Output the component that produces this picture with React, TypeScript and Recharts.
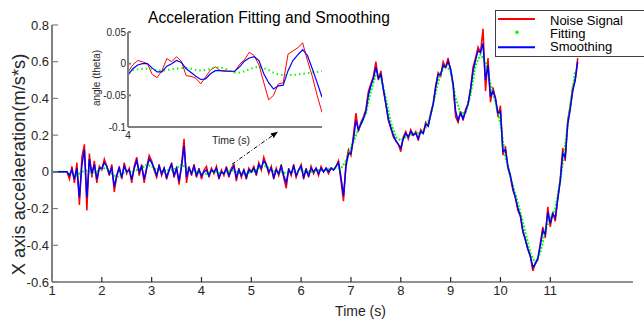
import React from 'react';
import { LineChart, Line, XAxis, YAxis, ReferenceLine, Legend } from 'recharts';

// ---------- main chart data (sampled every 0.05 s from 1.00 s) ----------
const T0 = 1.0;
const DT = 0.05;

const noiseSignal = [
  0, 0, 0, 0, 0, 0, 0, -0.04, 0.03, -0.06, 0.05, -0.18, 0.08, 0.15, -0.21, 0.1, -0.03, 0.06, -0.06, 0.03,
  0.01, 0.07, 0.03, -0.02, 0.04, -0.11, -0.02, 0.03, -0.04, 0.05, -0.01, 0.02, -0.06, 0.03, 0.08, -0.02, 0.04, -0.06, 0.02, 0.09,
  0.06, 0.01, -0.03, 0.04, -0.02, 0.02, -0.04, 0.01, 0.05, -0.03, 0.02, -0.07, 0.04, 0.18, -0.06, 0.03, -0.02, 0.04, -0.03, 0.02,
  -0.04, 0.01, 0.03, -0.03, 0.02, -0.01, 0.03, -0.04, 0.01, -0.02, 0.03, -0.03, 0.02, 0.04, -0.05, 0.02, -0.03, 0.01, -0.04, 0.02,
  0.0, 0.03, -0.02, 0.05, 0.01, 0.08, 0.04, -0.01, 0.03, -0.04, 0.02, -0.02, 0.04, -0.03, -0.09, 0.02, -0.02, 0.04, -0.03, 0.01,
  0.04, -0.04, 0.02, -0.03, 0.03, -0.01, 0.02, -0.02, 0.03, 0.0, 0.02, -0.01, 0.02, 0.01, 0.03, 0.06, -0.05, -0.16, 0.05, 0.12,
  0.09, 0.2, 0.32, 0.22, 0.27, 0.3, 0.34, 0.44, 0.48, 0.52, 0.6, 0.5, 0.55, 0.45, 0.37, 0.28, 0.24, 0.19, 0.17, 0.15,
  0.11, 0.19, 0.22, 0.18, 0.23, 0.2, 0.22, 0.17, 0.23, 0.21, 0.27, 0.25, 0.32, 0.37, 0.47, 0.54, 0.52, 0.6, 0.57, 0.62,
  0.55, 0.47, 0.3, 0.27, 0.33, 0.28, 0.34, 0.37, 0.45, 0.57, 0.62, 0.68, 0.65, 0.78, 0.44, 0.62, 0.38, 0.46, 0.4, 0.3,
  0.36, 0.09, 0.14, 0.02, -0.03, -0.1, -0.14, -0.21, -0.24, -0.33, -0.37, -0.42, -0.46, -0.54, -0.5, -0.48, -0.39, -0.3, -0.36, -0.19,
  -0.3, -0.22, -0.27, -0.14, -0.04, 0.13, 0.06, 0.28, 0.36, 0.46, 0.5, 0.62,
];

const smoothing = [
  0, 0, 0, 0, 0, 0, 0, -0.02, 0.01, -0.04, 0.02, -0.14, 0.04, 0.12, -0.14, 0.07, -0.01, 0.04, -0.04, 0.02,
  0.02, 0.05, 0.03, -0.01, 0.02, -0.08, -0.02, 0.02, -0.03, 0.03, 0.0, 0.01, -0.04, 0.02, 0.06, 0.0, 0.03, -0.04, 0.02, 0.07,
  0.05, 0.02, -0.02, 0.03, -0.01, 0.02, -0.03, 0.01, 0.04, -0.02, 0.02, -0.05, 0.03, 0.14, -0.03, 0.02, -0.01, 0.03, -0.02, 0.01,
  -0.02, 0.0, 0.01, -0.02, 0.01, 0.0, 0.02, -0.03, 0.0, -0.01, 0.02, -0.02, 0.01, 0.03, -0.03, 0.01, -0.02, 0.01, -0.03, 0.01,
  0.0, 0.02, -0.01, 0.04, 0.02, 0.06, 0.04, 0.0, 0.02, -0.03, 0.01, -0.01, 0.03, -0.02, -0.06, 0.01, -0.01, 0.03, -0.02, 0.01,
  0.03, -0.03, 0.01, -0.02, 0.02, 0.0, 0.02, -0.01, 0.02, 0.0, 0.02, 0.0, 0.02, 0.01, 0.03, 0.05, -0.03, -0.13, 0.03, 0.1,
  0.1, 0.18, 0.28, 0.23, 0.26, 0.29, 0.33, 0.42, 0.47, 0.51, 0.57, 0.51, 0.53, 0.45, 0.37, 0.29, 0.24, 0.2, 0.17, 0.15,
  0.13, 0.18, 0.21, 0.19, 0.22, 0.2, 0.21, 0.18, 0.22, 0.21, 0.26, 0.25, 0.31, 0.37, 0.46, 0.53, 0.53, 0.58, 0.57, 0.6,
  0.56, 0.48, 0.33, 0.28, 0.32, 0.29, 0.33, 0.37, 0.45, 0.55, 0.61, 0.66, 0.65, 0.7, 0.5, 0.58, 0.41, 0.44, 0.4, 0.32,
  0.33, 0.11, 0.12, 0.03, -0.02, -0.09, -0.14, -0.2, -0.24, -0.32, -0.37, -0.42, -0.46, -0.52, -0.5, -0.47, -0.4, -0.32, -0.34, -0.22,
  -0.28, -0.23, -0.25, -0.15, -0.05, 0.1, 0.08, 0.26, 0.34, 0.44, 0.5, 0.6,
];

// fitting curve sampled every 0.1 s from 1.0 s
const FIT_T0 = 1.0;
const FIT_DT = 0.1;
const fitting = [
  0, 0, 0, 0, -0.01, -0.02, 0.0, 0.01, -0.01, 0.0,
  0.02, 0.02, -0.01, -0.03, -0.01, 0.0, 0.0, 0.01, 0.02, 0.04,
  0.03, 0.01, 0.0, 0.01, 0.01, 0.02, 0.04, 0.02, 0.0, 0.0,
  -0.01, -0.01, 0.0, 0.0, -0.01, 0.0, 0.01, 0.0, -0.01, -0.01,
  0.0, 0.01, 0.03, 0.03, 0.01, 0.0, 0.0, -0.01, 0.0, 0.0,
  0.01, 0.0, 0.0, 0.01, 0.01, 0.01, 0.02, 0.02, 0.02, 0.06,
  0.13, 0.2, 0.26, 0.32, 0.44, 0.53, 0.52, 0.4, 0.27, 0.19,
  0.17, 0.19, 0.2, 0.21, 0.21, 0.24, 0.31, 0.43, 0.54, 0.58,
  0.55, 0.4, 0.32, 0.32, 0.42, 0.58, 0.64, 0.6, 0.48, 0.38,
  0.26, 0.08, -0.03, -0.12, -0.22, -0.33, -0.44, -0.5, -0.44, -0.32,
  -0.25, -0.2, -0.05, 0.15, 0.36, 0.55,
];

const xTicks = [1, 2, 3, 4, 5, 6, 7, 8, 9, 10, 11];
const yTicks = [-0.6, -0.4, -0.2, 0, 0.2, 0.4, 0.6, 0.8];

// ---------- inset data (sampled every 0.02 s from 4.00 s) ----------
const INSET_T0 = 4.0;
const INSET_DT = 0.02;
const insetNoise = [
  -0.013, -0.002, 0.005, 0.003, 0.0, -0.017, -0.022, -0.011, 0.008, 0.003,
  0.011, 0.004, -0.019, -0.02, -0.023, -0.032, -0.021, -0.01, -0.005, -0.011,
  -0.011, -0.012, -0.013, -0.001, 0.006, 0.018, 0.013, -0.002, -0.03, -0.057,
  -0.05, -0.032, -0.03, 0.015, 0.02, 0.025, 0.033, 0.005, -0.02, -0.05, -0.077,
];
const insetSmooth = [
  -0.018, -0.008, -0.002, 0.0, 0.0, -0.007, -0.013, -0.013, -0.004, 0.0,
  0.005, 0.002, -0.008, -0.014, -0.02, -0.025, -0.024, -0.016, -0.011, -0.011,
  -0.012, -0.012, -0.012, -0.005, 0.004, 0.009, 0.011, 0.005, -0.016, -0.03,
  -0.04, -0.035, -0.034, -0.011, 0.005, 0.014, 0.022, 0.013, -0.008, -0.03, -0.053,
];
const insetFit = [
  -0.012, -0.01, -0.009, -0.008, -0.008, -0.009, -0.01, -0.011, -0.01, -0.009,
  -0.008, -0.007, -0.007, -0.008, -0.01, -0.011, -0.01, -0.008, -0.006, -0.006,
  -0.008, -0.011, -0.014, -0.014, -0.012, -0.009, -0.006, -0.005, -0.007, -0.01,
  -0.014, -0.017, -0.018, -0.018, -0.018, -0.017, -0.016, -0.015, -0.014, -0.013, -0.012,
];
const insetXTicks = [4];
const insetYTicks = [-0.1, -0.05, 0, 0.05];

// ---------- assembled tables ----------
const mainData = noiseSignal.map((v, i) => ({
  t: Math.round((T0 + i * DT) * 100) / 100,
  noise: v,
  smooth: smoothing[i],
}));
const fitData = fitting.map((v, i) => ({ t: Math.round((FIT_T0 + i * FIT_DT) * 100) / 100, fit: v }));
const insetData = insetNoise.map((v, i) => ({
  t: Math.round((INSET_T0 + i * INSET_DT) * 1000) / 1000,
  noise: v,
  smooth: insetSmooth[i],
  fit: insetFit[i],
}));

const FONT = '"Liberation Sans", Arial, Helvetica, sans-serif';
const RED = '#ff0000';
const GREEN = '#00ff00';
const BLUE = '#0000ff';

const fmt = (v: number) => String(v);

const MainXLabel = (props: any) => {
  const vb = props.viewBox || { x: 52, y: 282, width: 581, height: 30 };
  return (
    <text x={vb.x + vb.width / 2 + 18} y={vb.y + 34} textAnchor="middle" fontSize={14} fill="#262626">
      Time (s)
    </text>
  );
};

const MainYLabel = (props: any) => {
  const vb = props.viewBox || { x: 0, y: 25, width: 52, height: 257 };
  const cx = vb.x + 25;
  const cy = vb.y + vb.height / 2 + 11;
  return (
    <text x={cx} y={cy} transform={`rotate(-90 ${cx} ${cy})`} textAnchor="middle" fontSize={18.3} fill="#262626">
      X axis accelaeration(m/s*s)
    </text>
  );
};

const InsetXLabel = (props: any) => {
  const vb = props.viewBox || { x: 128, y: 127, width: 194, height: 33 };
  return (
    <text x={vb.x + vb.width / 2 + 6} y={vb.y + 17} textAnchor="middle" fontSize={10.5} fill="#262626">
      Time (s)
    </text>
  );
};

const InsetYLabel = (props: any) => {
  const vb = props.viewBox || { x: 0, y: 32, width: 128, height: 95 };
  const cx = vb.x + 99.5;
  const cy = vb.y + vb.height / 2 - 1.5;
  return (
    <text x={cx} y={cy} transform={`rotate(-90 ${cx} ${cy})`} textAnchor="middle" fontSize={10} fill="#262626">
      angle (theta)
    </text>
  );
};

const LegendBox = () => (
  <svg width={160} height={48} style={{ display: 'block', fontFamily: FONT }}>
    <rect x={0.5} y={0.5} width={170} height={46} fill="#ffffff" stroke="#404040" strokeWidth={1} />
    <line x1={3} y1={9} x2={40} y2={9} stroke={RED} strokeWidth={2} />
    <circle cx={22} cy={22.3} r={1.8} fill={GREEN} />
    <line x1={3} y1={37.3} x2={40} y2={37.3} stroke={BLUE} strokeWidth={2} />
    <text x={55} y={15.2} fontSize={13} fill="#000">Noise Signal</text>
    <text x={55} y={28.3} fontSize={13} fill="#000">Fitting</text>
    <text x={55} y={41.4} fontSize={13} fill="#000">Smoothing</text>
  </svg>
);

const ArrowShape = (p: any) => (
  <line
    x1={p.x1}
    y1={p.y1}
    x2={p.x2}
    y2={p.y2}
    stroke="#000"
    strokeWidth={1}
    strokeDasharray="4 2 1 2"
    markerEnd="url(#arrowHead)"
  />
);

export default function App() {
  return (
    <div
      style={{
        position: 'fixed',
        left: 0,
        top: 0,
        width: 644,
        height: 323,
        background: '#ffffff',
        overflow: 'hidden',
        fontFamily: FONT,
      }}
    >
      <LineChart width={644} height={323} data={mainData} margin={{ top: 25, right: 11, bottom: 11, left: 0 }}>
        <defs>
          <marker
            id="arrowHead"
            viewBox="0 0 10 10"
            refX="9"
            refY="5"
            markerWidth="7"
            markerHeight="7"
            markerUnits="userSpaceOnUse"
            orient="auto"
          >
            <path d="M0,1 L10,5 L0,9 z" fill="#000" />
          </marker>
        </defs>
        <XAxis
          dataKey="t"
          type="number"
          domain={[1, 12.66]}
          ticks={xTicks}
          allowDataOverflow
          height={30}
          tickSize={-5}
          tickMargin={9}
          stroke="#262626"
          strokeWidth={1.2}
          tickLine={{ stroke: '#262626' }}
          tick={{ fill: '#262626', fontSize: 13 }}
          label={MainXLabel}
        />
        <YAxis
          type="number"
          domain={[-0.6, 0.8]}
          ticks={yTicks}
          allowDataOverflow
          width={52}
          tickSize={-6}
          tickMargin={9}
          stroke="#808080"
          strokeWidth={2}
          tickLine={{ stroke: '#808080', strokeWidth: 1.2 }}
          tick={{ fill: '#262626', fontSize: 13 }}
          tickFormatter={fmt}
          label={MainYLabel}
        />
        <Line dataKey="noise" stroke={RED} strokeWidth={1.5} dot={false} isAnimationActive={false} />
        <Line
          data={fitData}
          dataKey="fit"
          stroke={GREEN}
          strokeWidth={2}
          strokeDasharray="2 1.5"
          dot={false}
          isAnimationActive={false}
        />
        <Line dataKey="smooth" stroke={BLUE} strokeWidth={1.5} dot={false} isAnimationActive={false} />
        <ReferenceLine
          segment={[
            { x: 4.61, y: 0.041 },
            { x: 5.52, y: 0.216 },
          ]}
          shape={ArrowShape}
        />
        <Legend
          layout="horizontal"
          verticalAlign="middle"
          align="center"
          content={LegendBox}
          wrapperStyle={{ position: 'absolute', left: 495, top: 10, width: 160, height: 48 }}
        />
        <text x={269} y={23} textAnchor="middle" fontSize={15.6} fill="#000">
          Acceleration Fitting and Smoothing
        </text>
      </LineChart>

      <div style={{ position: 'absolute', left: 0, top: 0, width: 340, height: 160, pointerEvents: 'none' }}>
        <LineChart width={340} height={160} data={insetData} margin={{ top: 32, right: 18, bottom: 0, left: 0 }}>
          <XAxis
            dataKey="t"
            type="number"
            domain={[4, 4.8]}
            ticks={insetXTicks}
            allowDataOverflow
            height={33}
            tickSize={-3}
            tickMargin={8}
            stroke="#808080"
            strokeWidth={2}
            tickLine={{ stroke: '#808080' }}
            tick={{ fill: '#262626', fontSize: 10 }}
            label={InsetXLabel}
          />
          <YAxis
            type="number"
            domain={[-0.1, 0.05]}
            ticks={insetYTicks}
            allowDataOverflow
            width={128}
            tickSize={-3}
            tickMargin={5}
            stroke="#808080"
            strokeWidth={2}
            tickLine={{ stroke: '#808080' }}
            tick={{ fill: '#262626', fontSize: 10 }}
            tickFormatter={fmt}
            label={InsetYLabel}
          />
          <Line dataKey="noise" stroke={RED} strokeWidth={1} dot={false} isAnimationActive={false} />
          <Line
            dataKey="fit"
            stroke={GREEN}
            strokeWidth={2}
            strokeDasharray="1.5 3"
            dot={false}
            isAnimationActive={false}
          />
          <Line dataKey="smooth" stroke={BLUE} strokeWidth={1.2} dot={false} isAnimationActive={false} />
        </LineChart>
      </div>
    </div>
  );
}
